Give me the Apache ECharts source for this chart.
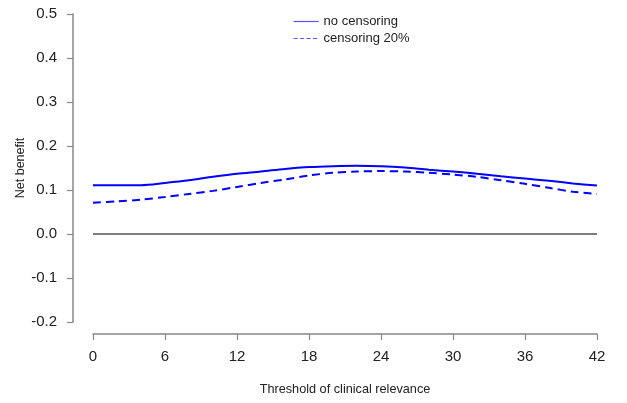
<!DOCTYPE html>
<html><head><meta charset="utf-8">
<script src="https://cdn.jsdelivr.net/npm/echarts@6/dist/echarts.min.js"></script>
<style>html,body{margin:0;padding:0;background:#fff}#c{width:627px;height:403px}</style>
</head><body><div id="c"></div>
<script>
const xValues = [0,2,4,6,8,10,12,14,16,18,20,22,24,26,28,30,32,34,36,38,40,42];
const noCensoring = [0.111,0.111,0.111,0.116,0.122,0.130,0.137,0.142,0.148,0.152,0.154,0.155,0.154,0.151,0.146,0.142,0.137,0.131,0.126,0.121,0.115,0.110];
const censoring20 = [0.071,0.074,0.078,0.084,0.091,0.098,0.107,0.116,0.124,0.133,0.139,0.142,0.143,0.142,0.139,0.135,0.130,0.122,0.114,0.105,0.096,0.091];
const zeroLine = [[0,0],[42,0]];
const seriesNames = ['no censoring','censoring 20%'];
const xTitle = 'Threshold of clinical relevance';
const yTitle = 'Net benefit';

const font = 'Liberation Sans, Arial, Helvetica, sans-serif';
const chart = echarts.init(document.getElementById('c'));
chart.setOption({
  animation: false,
  backgroundColor: '#fff',
  textStyle: {fontFamily: font},
  grid: {left: 93, right: 30, top: 14, bottom: 81, containLabel: false},
  legend: {
    orient: 'vertical', left: 288, top: 10, itemWidth: 25, itemHeight: 14, itemGap: 4,
    textStyle: {fontFamily: font, fontSize: 13, color: '#222'},
    itemStyle: {opacity: 0},
    lineStyle: {width: 1.2, color: '#5555ff'},
    data: [
      {name: seriesNames[0], lineStyle: {type: 'solid'}},
      {name: seriesNames[1], lineStyle: {type: [4,2.5]}}
    ]
  },
  xAxis: {
    type: 'value', min: 0, max: 42, interval: 6, offset: 12,
    name: xTitle, nameLocation: 'middle', nameGap: 49, nameMoveOverlap: false,
    nameTextStyle: {fontFamily: font, fontSize: 12.7, color: '#222'},
    axisLine: {show: true, onZero: false, lineStyle: {color: '#888', width: 1.5}},
    axisTick: {show: true, length: 6, lineStyle: {color: '#888', width: 1.2}},
    axisLabel: {fontFamily: font, fontSize: 15, color: '#222', margin: 15},
    splitLine: {show: false}
  },
  yAxis: {
    type: 'value', min: -0.2, max: 0.5, interval: 0.1, offset: 20,
    name: yTitle, nameLocation: 'middle', nameGap: 46, nameRotate: 90, nameMoveOverlap: false,
    nameTextStyle: {fontFamily: font, fontSize: 12.5, color: '#222'},
    axisLine: {show: true, onZero: false, lineStyle: {color: '#888', width: 1.5}},
    axisTick: {show: true, length: 6, lineStyle: {color: '#888', width: 1.2}},
    axisLabel: {fontFamily: font, fontSize: 15, color: '#222', margin: 16, formatter: v => v.toFixed(1)},
    splitLine: {show: false}
  },
  series: [
    {name: seriesNames[0], type: 'line', symbol: 'none', smooth: 0.3,
     data: xValues.map((x,i)=>[x,noCensoring[i]]),
     lineStyle: {color: '#0000ff', width: 2, type: 'solid'}, itemStyle: {color: '#0000ff'}},
    {name: seriesNames[1], type: 'line', symbol: 'none', smooth: 0.3,
     data: xValues.map((x,i)=>[x,censoring20[i]]),
     lineStyle: {color: '#0000ff', width: 2, type: [8,5]}, itemStyle: {color: '#0000ff'}},
    {name: 'zero', type: 'line', symbol: 'none', data: zeroLine,
     lineStyle: {color: '#000', width: 1}, silent: true}
  ]
});
</script></body></html>
